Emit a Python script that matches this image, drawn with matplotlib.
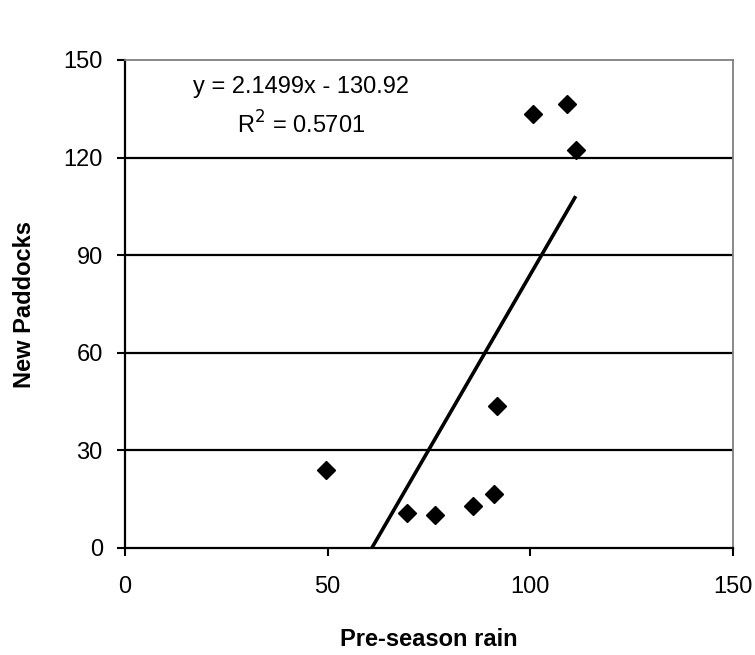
import matplotlib
matplotlib.use("Agg")
import matplotlib.pyplot as plt
import numpy as np

# Data
rain = [49.5, 69.5, 76.6, 85.8, 91.0, 91.7, 100.7, 109.1, 111.2]
paddocks = [24.0, 10.9, 10.0, 13.0, 16.7, 43.7, 133.4, 136.4, 122.4]
slope = 2.1499
intercept = -130.92
r2 = 0.5701
x_ticks = [0, 50, 100, 150]
y_ticks = [0, 30, 60, 90, 120, 150]

plt.rcParams['font.family'] = ['Liberation Sans', 'DejaVu Sans']
FS = 17

fig = plt.figure(figsize=(7.55, 6.55), dpi=100)
ax = fig.add_axes([125/755, 1-548/655, (733-125)/755, (548-60)/655])

ax.set_xlim(0, 150)
ax.set_ylim(0, 150)
ax.set_xticks(x_ticks)
ax.set_yticks(y_ticks)
ax.tick_params(axis='both', labelsize=FS, direction='out', length=6, width=1.5, color='black')
ax.tick_params(axis='x', pad=14)
ax.tick_params(axis='y', pad=10)

for y in y_ticks[1:-1]:
    ax.axhline(y, color='black', lw=1.6, zorder=1)

ax.spines['left'].set_color('black')
ax.spines['left'].set_linewidth(1.6)
ax.spines['bottom'].set_color('black')
ax.spines['bottom'].set_linewidth(1.6)
ax.spines['top'].set_color('#808080')
ax.spines['right'].set_color('#808080')
ax.spines['top'].set_linewidth(1.3)
ax.spines['right'].set_linewidth(1.3)

# trend line
xs = np.array([min(rain), max(rain)])
ys = slope * xs + intercept
ax.plot(xs, ys, color='black', lw=2.6, zorder=2, solid_capstyle='butt')

ax.plot(rain, paddocks, linestyle='none', marker='D', markersize=9.5,
        color='black', zorder=3, clip_on=False)

ax.text(0.29, 0.945, f"y = {slope}x - {abs(intercept)}", transform=ax.transAxes,
        ha='center', va='center', fontsize=FS)
ax.text(0.29, 0.866, f"R$^2$ = {r2}", transform=ax.transAxes,
        ha='center', va='center', fontsize=FS)

ax.set_xlabel("Pre-season rain", fontsize=FS, fontweight='bold', labelpad=22)
ax.set_ylabel("New Paddocks", fontsize=FS, fontweight='bold', labelpad=20)

fig.savefig("out.png", dpi=100)
